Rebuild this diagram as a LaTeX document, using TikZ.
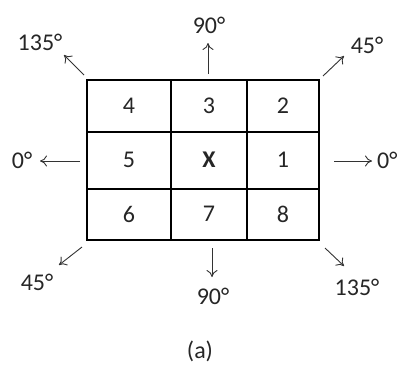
\documentclass[tikz,border=0pt]{standalone}
\usepackage{fontspec}
\setmainfont{Carlito}
\usetikzlibrary{arrows.meta}
\begin{document}
\begin{tikzpicture}[x=1pt,y=-1pt,
  lbl/.style={font=\fontsize{24}{26}\selectfont, text=black!85, inner sep=0pt},
  cell/.style={font=\fontsize{24}{26}\selectfont, text=black!85, inner sep=0pt},
  dirarrow/.style={draw=black!80, line width=0.9pt, -{To[length=7pt,width=11pt]}},
  gridline/.style={draw=black, line width=1.2pt}]
\useasboundingbox (0,0) rectangle (398,365);
% grid
\draw[gridline] (87,80) rectangle (319,240);
\draw[gridline] (171,80) -- (171,240);
\draw[gridline] (247,80) -- (247,240);
\draw[gridline] (87,132) -- (319,132);
\draw[gridline] (87,189) -- (319,189);
% cells
\node[cell] (c4) at (129,106) {4};
\node[cell] (c3) at (209,106) {3};
\node[cell] (c2) at (283,106) {2};
\node[cell] (c5) at (129,160) {5};
\node[cell] (cx) at (209,160) {\textbf{X}};
\node[cell] (c1) at (283,160) {1};
\node[cell] (c6) at (129,214) {6};
\node[cell] (c7) at (209,214) {7};
\node[cell] (c8) at (283,214) {8};
% labels
\node[lbl] (ltl) at (40,42) {135°};
\node[lbl] (lt) at (209,25) {90°};
\node[lbl] (ltr) at (367,45) {45°};
\node[lbl] (ll) at (22,160) {0°};
\node[lbl, anchor=west] (lr) at (377,160) {0°};
\node[lbl] (lbl) at (37,282) {45°};
\node[lbl] (lb) at (213,296) {90°};
\node[lbl] (lbr) at (357,287) {135°};
\node[lbl] (cap) at (200,351) {(a)};
% arrow coordinates
\coordinate (s1) at (84,75);  \coordinate (e1) at (64,55);
\coordinate (s2) at (208,74); \coordinate (e2) at (208,43);
\coordinate (s3) at (323,76); \coordinate (e3) at (344,56);
\coordinate (s4) at (80,161); \coordinate (e4) at (40,161);
\coordinate (s5) at (334,161);\coordinate (e5) at (372,161);
\coordinate (s6) at (82,247); \coordinate (e6) at (59,265);
\coordinate (s7) at (212,248);\coordinate (e7) at (212,277);
\coordinate (s8) at (325,248);\coordinate (e8) at (344,266);
\foreach \i in {1,...,8}{\draw[dirarrow] (s\i) -- (e\i);}
\end{tikzpicture}
\end{document}
